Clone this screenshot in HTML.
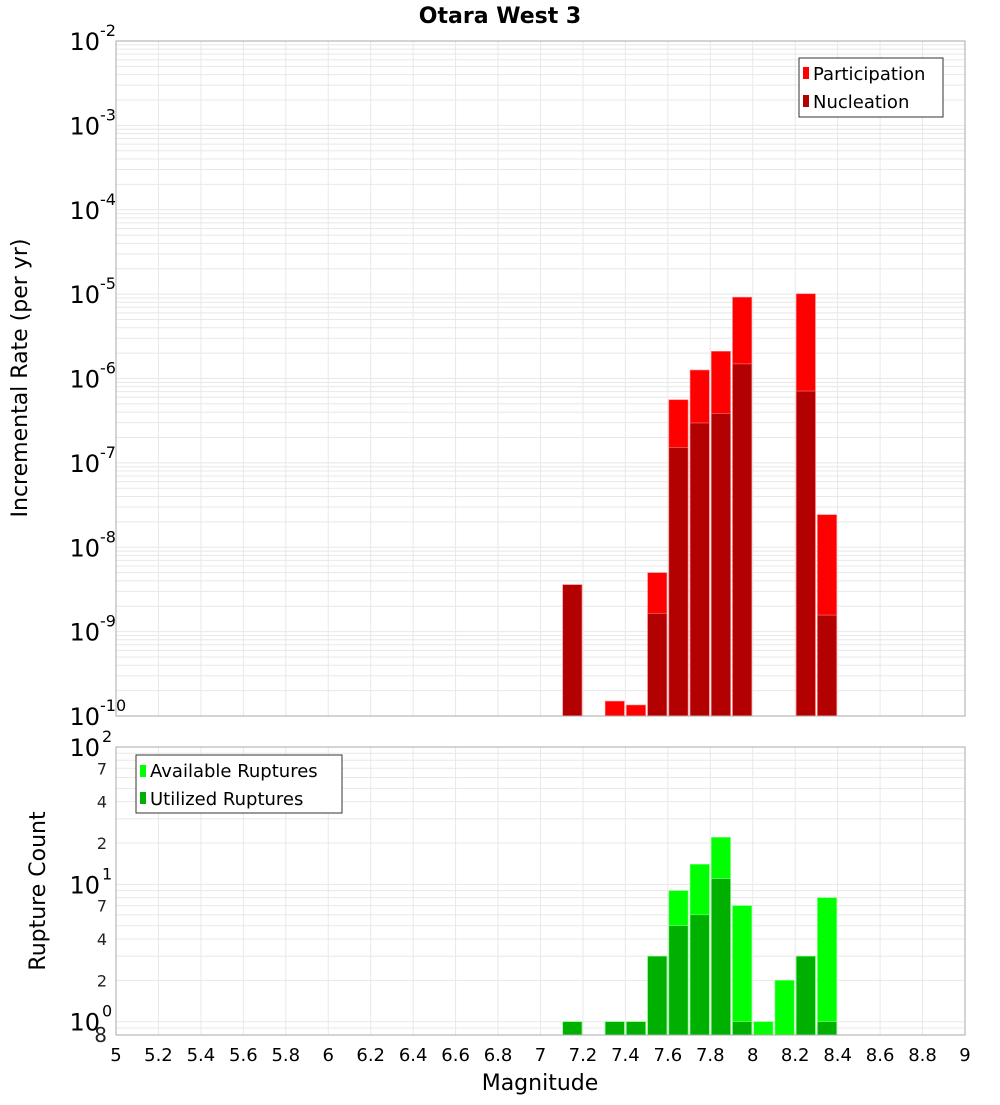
<!DOCTYPE html>
<html><head><meta charset="utf-8"><style>
body{margin:0;background:#fff;font-family:"Liberation Sans","DejaVu Sans",sans-serif}
svg text{font-family:"DejaVu Sans","Liberation Sans",sans-serif}
</style></head><body>
<svg id="chart" width="1000" height="1100" xmlns="http://www.w3.org/2000/svg"></svg>
<script>
const magBins=[7.15,7.35,7.45,7.55,7.65,7.75,7.85,7.95,8.25,8.35];
const participation=[3.6e-9,1.5e-10,1.35e-10,5e-9,5.6e-7,1.26e-6,2.1e-6,9.2e-6,1.01e-5,2.43e-8];
const nucleation=[3.6e-9,0,0,1.65e-9,1.53e-7,2.97e-7,3.87e-7,1.49e-6,7.1e-7,1.57e-9];
const countBins=[7.15,7.35,7.45,7.55,7.65,7.75,7.85,7.95,8.05,8.15,8.25,8.35];
const available=[1,1,1,3,9,14,22,7,1,2,3,8];
const utilized=[1,1,1,3,5,6,11,1,0,0,3,1];
const xTicks=[5,5.2,5.4,5.6,5.8,6,6.2,6.4,6.6,6.8,7,7.2,7.4,7.6,7.8,8,8.2,8.4,8.6,8.8,9];
const topExps=[-2,-3,-4,-5,-6,-7,-8,-9,-10];
const botExps=[2,1,0];

const svg=document.getElementById('chart');
const NS='http://www.w3.org/2000/svg';
function mk(tag,attrs,parent){const e=document.createElementNS(NS,tag);for(const k in attrs)e.setAttribute(k,attrs[k]);(parent||svg).appendChild(e);return e;}
const L=116,R=965,T1=41,B1=716,T2=747,B2=1035;
const x=m=>L+(m-5)/4*(R-L);
const y1=v=>B1-(Math.log10(v)+10)*(B1-T1)/8;
const y2=v=>B2-(Math.log10(v)-Math.log10(0.8))*(B2-T2)/(2-Math.log10(0.8));

// gridlines
const grid=mk('g',{});


xTicks.forEach(t=>{
  mk('line',{x1:x(t),x2:x(t),y1:T1,y2:B1,stroke:'#e8e8e8'},grid);
  mk('line',{x1:x(t),x2:x(t),y1:T2,y2:B2,stroke:'#e8e8e8'},grid);
});
for(let e=-10;e<-2;e++)for(let k=1;k<10;k++){const yy=y1(k*Math.pow(10,e));mk('line',{x1:L,x2:R,y1:yy,y2:yy,stroke:'#e8e8e8'},grid);}
for(let e=-1;e<2;e++)for(let k=1;k<10;k++){const v=k*Math.pow(10,e);if(v<0.8)continue;const yy=y2(v);mk('line',{x1:L,x2:R,y1:yy,y2:yy,stroke:'#e8e8e8'},grid);}

// top bars
magBins.forEach((m,i)=>{
  const xa=x(m-0.05)+1,w=x(m+0.05)-x(m-0.05)-2;
  if(participation[i]>0){const r=mk('rect',{x:xa,y:y1(participation[i]),width:w,height:B1-y1(participation[i]),fill:'#ff0000',stroke:'#ff8080','stroke-width':0.6});
    
    }
  if(nucleation[i]>0){const r=mk('rect',{x:xa,y:y1(nucleation[i]),width:w,height:B1-y1(nucleation[i]),fill:'#b30000',stroke:'#ff8080','stroke-width':0.6});
    
    }
});
// bottom bars
countBins.forEach((m,i)=>{
  const xa=x(m-0.05)+1,w=x(m+0.05)-x(m-0.05)-2;
  if(available[i]>0){const r=mk('rect',{x:xa,y:y2(available[i]),width:w,height:B2-y2(available[i]),fill:'#00ff00',stroke:'#80ff80','stroke-width':0.6});
    
    }
  if(utilized[i]>0){const r=mk('rect',{x:xa,y:y2(utilized[i]),width:w,height:B2-y2(utilized[i]),fill:'#00b000',stroke:'#80ff80','stroke-width':0.6});
    
    }
});

// plot borders
const b1=mk('rect',{x:L,y:T1,width:R-L,height:B1-T1,fill:'none',stroke:'#aaa'});


const b2=mk('rect',{x:L,y:T2,width:R-L,height:B2-T2,fill:'none',stroke:'#aaa'});



// y tick labels top
topExps.forEach(e=>{
  const yy=y1(Math.pow(10,e));
  const t=mk('text',{x:100,y:yy+9,'font-size':24,'text-anchor':'end',fill:'#000'});
  t.textContent='10';
  
  
  const s=mk('text',{x:100,y:yy-5,'font-size':16,fill:'#000'});
  s.textContent=String(e);
  
  
});
botExps.forEach(e=>{
  const yy=y2(Math.pow(10,e));
  const t=mk('text',{x:100,y:yy+9,'font-size':24,'text-anchor':'end',fill:'#000'});
  t.textContent='10';
  
  
  const s=mk('text',{x:102,y:yy-5,'font-size':16,fill:'#000'});
  s.textContent=String(e);
  
  
});
[[7,10],[4,10],[2,10],[7,1],[4,1],[2,1],[8,0.1]].forEach(([k,d])=>{
  const yy=y2(k*d);
  const t=mk('text',{x:107,y:yy+(k===8?7:6),'font-size':k===8?20:16,'text-anchor':'end',fill:'#222'});
  t.textContent=String(k);
  
  
});
// x tick labels
xTicks.forEach(t=>{
  const e=mk('text',{x:x(t),y:1061,'font-size':18,'text-anchor':'middle',fill:'#000'});
  e.textContent=String(t);
  
  
});
</script>
<svg style="position:absolute;left:0;top:0" width="1000" height="1100" xmlns="http://www.w3.org/2000/svg">
<text x="500" y="23" font-size="22" font-weight="bold" text-anchor="middle" font-family="DejaVu Sans, sans-serif">Otara West 3</text>
<text transform="translate(27,378) rotate(-90)" font-size="22" text-anchor="middle" font-family="DejaVu Sans, sans-serif">Incremental Rate (per yr)</text>
<text transform="translate(45,891) rotate(-90)" font-size="22" text-anchor="middle" font-family="DejaVu Sans, sans-serif">Rupture Count</text>
<text x="540" y="1090" font-size="22" text-anchor="middle" font-family="DejaVu Sans, sans-serif">Magnitude</text>
<g>
<rect x="799" y="58" width="144" height="59" fill="#fff" stroke="#333"/>
<rect x="803" y="67" width="6" height="12" fill="#ff0000"/>
<text x="813" y="80" font-size="18" font-family="DejaVu Sans, sans-serif">Participation</text>
<rect x="803" y="95" width="6" height="12" fill="#b30000"/>
<text x="813" y="108" font-size="18" font-family="DejaVu Sans, sans-serif">Nucleation</text>
</g>
<g>
<rect x="136" y="755" width="206" height="58" fill="#fff" stroke="#333"/>
<rect x="140" y="765" width="6" height="12" fill="#00ff00"/>
<text x="150" y="777" font-size="18" font-family="DejaVu Sans, sans-serif">Available Ruptures</text>
<rect x="140" y="792" width="6" height="12" fill="#00b000"/>
<text x="150" y="805" font-size="18" font-family="DejaVu Sans, sans-serif">Utilized Ruptures</text>
</g>
</svg>
</body></html>
